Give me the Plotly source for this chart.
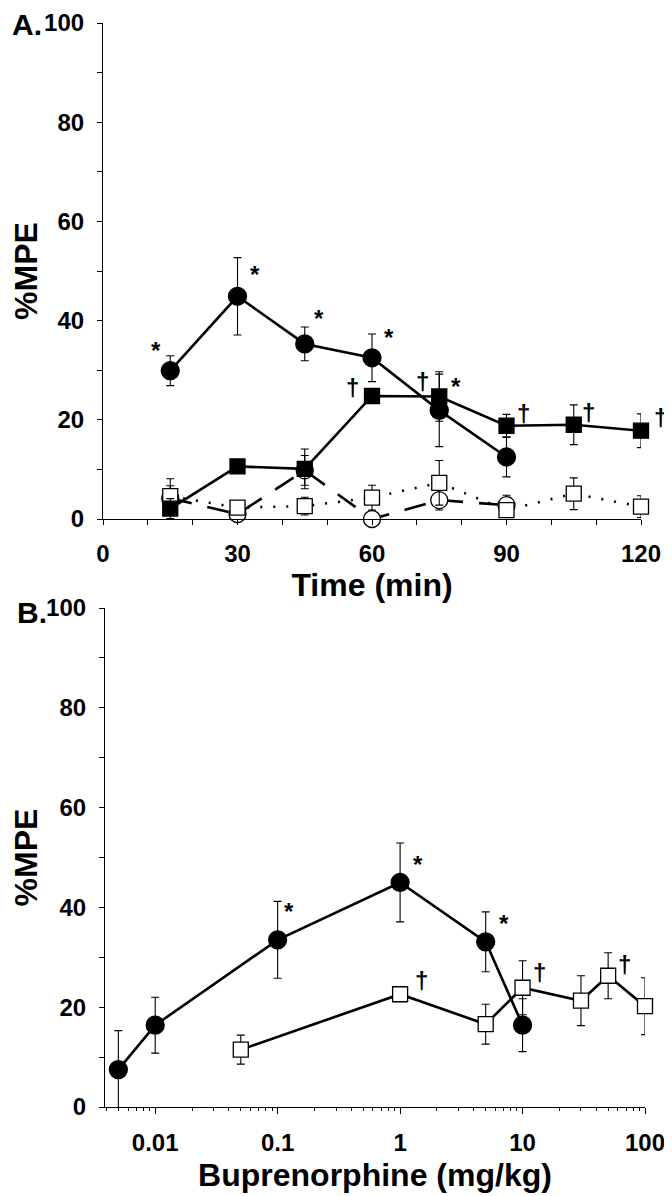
import math
import plotly.graph_objects as go

# ---- panel A: time course (min) ----
time_a = [15, 30, 45, 60, 75, 90, 105, 120]

fcirc_a = [29.9, 44.9, 35.3, 32.5, 21.9, 12.5]
fcirc_a_err = [3.0, 7.8, 3.4, 4.8, 7.3, 4.0]
fcirc_a_sig = ['*', '*', '*', '*', '*', '']

fsq_a = [2.1, 10.6, 10.1, 24.8, 24.7, 18.8, 19.0, 17.8]
fsq_a_err = [2.0, 1.0, 4.0, 1.0, 5.0, 2.3, 4.0, 3.4]
fsq_a_sig = ['', '', '', '†', '†', '†', '†', '†']

ocirc_a = [4.2, 1.0, 9.8, 0.0, 3.8, 2.8]
ocirc_a_err = [2.5, 1.5, 3.0, 0.5, 2.0, 2.0]

osq_a = [4.6, 2.3, 2.6, 4.3, 7.3, 1.8, 5.1, 2.5]
osq_a_err = [3.5, 1.0, 1.8, 2.5, 4.5, 1.0, 3.2, 2.2]

# ---- panel B: dose response (mg/kg) ----
dose_circ_b = [0.005, 0.01, 0.1, 1, 5, 10]
fcirc_b = [7.5, 16.4, 33.5, 45.0, 33.1, 16.4]
fcirc_b_err = [7.8, 5.6, 7.7, 7.9, 6.0, 5.3]
fcirc_b_sig = ['', '', '*', '*', '*', '']

dose_sq_b = [0.05, 1, 5, 10, 30, 50, 100]
osq_b = [11.5, 22.6, 16.6, 23.9, 21.3, 26.3, 20.2]
osq_b_err = [2.9, 1.3, 4.0, 5.4, 5.0, 4.6, 5.7]
osq_b_sig = ['', '†', '', '†', '', '†', '']

FONT = "Liberation Sans, Arial, sans-serif"
BLACK = "#000000"

# page body has an 8px margin at top/left; size the figure to fill the rest of the window
PAD = 8
W, H = 672 - PAD, 1196 - PAD


def xdom(a, b):
    return [(a - PAD) / W, (b - PAD) / W]


def ydom(top, bottom):
    return [1 - (bottom - PAD) / H, 1 - (top - PAD) / H]


fig = go.Figure()


def add_series(x, y, err, xa, ya, symbol, fill, dash, size):
    fig.add_trace(go.Scatter(
        x=x, y=y, xaxis=xa, yaxis=ya,
        mode='lines+markers',
        line=dict(color=BLACK, width=2.6, dash=dash),
        marker=dict(symbol=symbol, size=size, color=fill,
                    line=dict(color=BLACK, width=1.3)),
        error_y=dict(type='data', array=err, color=BLACK,
                     thickness=1.1, width=4),
        cliponaxis=False, showlegend=False,
    ))


# panel A traces
add_series(time_a[:6], ocirc_a, ocirc_a_err, 'x', 'y', 'circle', 'white', '22px,16px', 17)
add_series(time_a, osq_a, osq_a_err, 'x', 'y', 'square', 'white', '2px,11px', 15)
add_series(time_a[:6], fcirc_a, fcirc_a_err, 'x', 'y', 'circle', BLACK, 'solid', 18)
add_series(time_a, fsq_a, fsq_a_err, 'x', 'y', 'square', BLACK, 'solid', 15)

# panel B traces
add_series(dose_sq_b, osq_b, osq_b_err, 'x2', 'y2', 'square', 'white', 'solid', 15)
add_series(dose_circ_b, fcirc_b, fcirc_b_err, 'x2', 'y2', 'circle', BLACK, 'solid', 18)

# significance marks next to points (pixel shifts)
sig_font = dict(family=FONT, size=24, color=BLACK, weight='bold')
shift_a_circ = [(-14, 20), (17, 22), (14, 25), (17, 20), (17, 24), (0, 0)]
shift_a_sq = [(0, 0), (0, 0), (0, 0), (-20, 8), (-17, 15), (17, 12), (15, 12), (19, 13)]
shift_b_circ = [(0, 0), (0, 0), (11, 28), (18, 18), (18, 18), (0, 0)]
shift_b_sq = [(0, 0), (21, 14), (0, 0), (17, 15), (0, 0), (16, 11), (0, 0)]

for xs, ys, sigs, shifts, xr, yr in [
    (time_a, fcirc_a, fcirc_a_sig, shift_a_circ, 'x', 'y'),
    (time_a, fsq_a, fsq_a_sig, shift_a_sq, 'x', 'y'),
    (dose_circ_b, fcirc_b, fcirc_b_sig, shift_b_circ, 'x2', 'y2'),
    (dose_sq_b, osq_b, osq_b_sig, shift_b_sq, 'x2', 'y2'),
]:
    for xv, yv, s, (dx, dy) in zip(xs, ys, sigs, shifts):
        if not s:
            continue
        # log axis annotations take log10 positions
        xv_ann = math.log10(xv) if xr == 'x2' else xv
        fig.add_annotation(x=xv_ann, y=yv, xref=xr, yref=yr, text=s,
                           showarrow=False, xshift=dx, yshift=dy,
                           font=sig_font)

tick_font = dict(family=FONT, size=24, color=BLACK, weight='bold')
title_font = dict(family=FONT, size=32, color=BLACK, weight='bold')

common_y = dict(
    range=[0, 100], dtick=20, showgrid=False, zeroline=False, automargin=False,
    showline=True, linecolor=BLACK, linewidth=1.2,
    ticks='outside', ticklen=5, tickwidth=1, tickcolor=BLACK,
    minor=dict(ticks='outside', ticklen=5, tickwidth=1, dtick=10, tickcolor=BLACK),
    tickfont=tick_font, ticklabelstandoff=8, ticklabeloverflow='allow',
    title=dict(text='%MPE', font=dict(family=FONT, size=32, color=BLACK, weight='bold'),
               standoff=14),
)

fig.update_layout(
    width=W, height=H,
    paper_bgcolor='white', plot_bgcolor='white',
    margin=dict(l=0, r=0, t=0, b=0),
    xaxis=dict(
        domain=xdom(103, 641), anchor='y', automargin=False,
        range=[0, 120], tickvals=[0, 30, 60, 90, 120],
        showgrid=False, zeroline=False,
        showline=True, linecolor=BLACK, linewidth=1.2,
        ticks='outside', ticklen=5, tickwidth=1, tickcolor=BLACK,
        minor=dict(ticks='outside', ticklen=5, tickwidth=1, dtick=10, tickcolor=BLACK),
        tickfont=tick_font, ticklabelstandoff=8, ticklabeloverflow='allow',
        title=dict(text='Time (min)', font=title_font, standoff=6),
    ),
    yaxis=dict(domain=ydom(23, 519), anchor='x', **common_y),
    xaxis2=dict(
        domain=xdom(105, 645), anchor='y2', type='log', automargin=False,
        range=[-2.41, 2.0], tickvals=[0.01, 0.1, 1, 10, 100],
        ticktext=['0.01', '0.1', '1', '10', '100'],
        showgrid=False, zeroline=False,
        showline=True, linecolor=BLACK, linewidth=1.2,
        ticks='outside', ticklen=6, tickwidth=1, tickcolor=BLACK,
        minor=dict(ticks='outside', ticklen=3, tickwidth=1, dtick='D1', tickcolor=BLACK),
        tickfont=tick_font, ticklabelstandoff=8, ticklabeloverflow='allow',
        title=dict(text='Buprenorphine (mg/kg)', font=title_font, standoff=8),
    ),
    yaxis2=dict(domain=ydom(608, 1107), anchor='x2', **common_y),
)

fig.add_annotation(x=(10 - PAD) / W, y=1 - (24 - PAD) / H, xref='paper', yref='paper',
                   text='A.', showarrow=False, xanchor='left', yanchor='middle',
                   font=dict(family=FONT, size=30, color=BLACK, weight='bold'))
fig.add_annotation(x=(15 - PAD) / W, y=1 - (612 - PAD) / H, xref='paper', yref='paper',
                   text='B.', showarrow=False, xanchor='left', yanchor='middle',
                   font=dict(family=FONT, size=30, color=BLACK, weight='bold'))

fig.write_html("out.html")
